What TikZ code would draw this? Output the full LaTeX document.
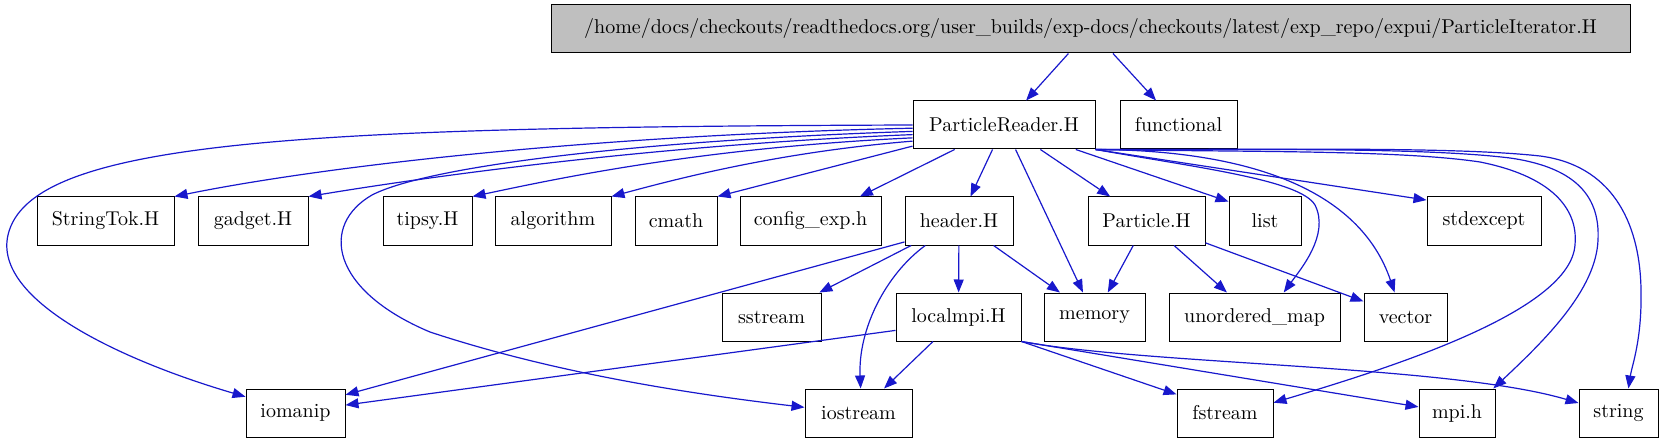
\documentclass[tikz,border=0pt]{standalone}
\usepackage{fontspec}
\usepackage{tikz}
\usetikzlibrary{arrows.meta}
\definecolor{edgeblue}{RGB}{24, 24, 204}
\definecolor{focusgray}{RGB}{191, 191, 191}

\begin{document}
\begin{tikzpicture}[
    x=0.5pt, y=-0.5pt,
    hfile/.style={rectangle, draw=black, fill=white, line width=0.5pt,
        minimum width=#1*0.5pt, minimum height=24pt, inner sep=0pt, font=\normalsize},
    dep/.style={-{Triangle[length=6.5pt, width=5pt]}, semithick, edgeblue}
]
\useasboundingbox (0,0) rectangle (1663,443);

% Top: the documented file
\node[hfile=1079, fill=focusgray] (iterator) at (1090.5,29)
    {/home/docs/checkouts/readthedocs.org/user\_builds/exp-docs/checkouts/latest/exp\_repo/expui/ParticleIterator.H};

% Level 1
\node[hfile=182] (reader) at (1004,125) {ParticleReader.H};
\node[hfile=117] (functional) at (1178.5,125) {functional};

% Level 2
\node[hfile=137] (stringtok) at (105.5,221) {StringTok.H};
\node[hfile=110] (gadget) at (253,221) {gadget.H};
\node[hfile=89] (tipsy) at (427.5,221) {tipsy.H};
\node[hfile=116] (algorithm) at (553,221) {algorithm};
\node[hfile=82] (cmath) at (676,221) {cmath};
\node[hfile=141] (configexp) at (810.5,221) {config\_exp.h};
\node[hfile=108] (header) at (959,221) {header.H};
\node[hfile=117] (particle) at (1146.5,221) {Particle.H};
\node[hfile=72] (list) at (1265,221) {list};
\node[hfile=114] (stdexcept) at (1484,221) {stdexcept};

% Level 3
\node[hfile=99] (sstream) at (771.5,317) {sstream};
\node[hfile=125] (localmpi) at (958.5,317) {localmpi.H};
\node[hfile=101] (memory) at (1094.5,317) {memory};
\node[hfile=171] (unorderedmap) at (1254.5,317) {unordered\_map};
\node[hfile=83] (vector) at (1405.5,317) {vector};

% Level 4
\node[hfile=99] (iomanip) at (295.5,413) {iomanip};
\node[hfile=107] (iostream) at (858.5,413) {iostream};
\node[hfile=96] (fstream) at (1225,413) {fstream};
\node[hfile=76] (mpih) at (1457,413) {mpi.h};
\node[hfile=79] (string) at (1618.5,413) {string};

% Includes of the top file
\draw[dep] (iterator) -- (reader);
\draw[dep] (iterator) -- (functional);

% Includes of ParticleReader.H
\draw[dep] (reader.180) .. controls (300,127) and (30,140) .. (8,235)
    .. controls (-7,300) and (120,360) .. (iomanip.162);
\draw[dep] (reader.182) .. controls (600,135) and (330,165) .. (stringtok.north east);
\draw[dep] (reader.184) .. controls (650,140) and (430,165) .. (372,195)
    .. controls (320,225) and (330,290) .. (430,332)
    .. controls (560,375) and (700,395) .. (iostream.174);
\draw[dep] (reader.186) .. controls (650,145) and (420,178) .. (gadget.north east);
\draw[dep] (reader.188) .. controls (700,148) and (560,178) .. (tipsy.north east);
\draw[dep] (reader.190) .. controls (780,152) and (680,178) .. (algorithm.north east);
\draw[dep] (reader.193) -- (cmath.north east);
\draw[dep] (reader) -- (configexp);
\draw[dep] (reader) -- (header);
\draw[dep] (reader) -- (memory);
\draw[dep] (reader) -- (particle);
\draw[dep] (reader) -- (list.152);
\draw[dep] (reader.south east) .. controls (1200,168) and (1300,180) .. (1315,205)
    .. controls (1330,235) and (1300,270) .. (unorderedmap.40);
\draw[dep] (reader.south east) .. controls (1250,150) and (1360,190) .. (vector.114);
\draw[dep] (reader.south east) -- (stdexcept.160);
\draw[dep] (reader.south east) .. controls (1250,152) and (1400,150) .. (1480,162)
    .. controls (1560,178) and (1578,215) .. (1575,245)
    .. controls (1570,310) and (1400,365) .. (fstream.12);
\draw[dep] (reader.south east) .. controls (1250,150) and (1420,147) .. (1510,158)
    .. controls (1580,168) and (1600,200) .. (1598,240)
    .. controls (1596,290) and (1545,340) .. (mpih.34);
\draw[dep] (reader.south east) .. controls (1250,150) and (1450,146) .. (1540,156)
    .. controls (1610,165) and (1640,220) .. (1641,290)
    .. controls (1642,340) and (1632,365) .. (string.68);

% Includes of header.H
\draw[dep] (header.201) -- (iomanip.20);
\draw[dep] (header) -- (sstream);
\draw[dep] (header.216) .. controls (885,275) and (858,330) .. (iostream.85);
\draw[dep] (header) -- (localmpi);
\draw[dep] (header) -- (memory);

% Includes of Particle.H
\draw[dep] (particle) -- (memory);
\draw[dep] (particle) -- (unorderedmap);
\draw[dep] (particle) -- (vector);

% Includes of localmpi.H
\draw[dep] (localmpi.192) -- (iomanip.9);
\draw[dep] (localmpi) -- (iostream);
\draw[dep] (localmpi.south east) -- (fstream.159);
\draw[dep] (localmpi.south east) -- (mpih.171);
\draw[dep] (localmpi.south east) .. controls (1150,365) and (1450,365) .. (string.166);

\end{tikzpicture}
\end{document}
